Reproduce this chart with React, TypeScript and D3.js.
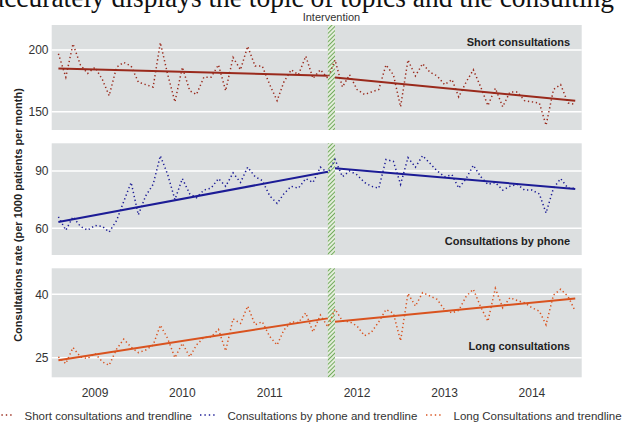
import { useEffect, useRef } from "react";
import * as d3 from "d3";

// monthly observations, Aug 2008 .. Jul 2014
const shortValues = [
  197, 178, 205, 188, 181, 186, 176, 163, 186, 190, 187, 174, 172, 170, 206, 180, 158, 186, 167, 164,
  178, 178, 188, 167, 194, 184, 203, 187, 187, 172, 159, 174, 184, 180, 195, 177, 184, 177, 192, 170,
  180, 168, 164, 166, 168, 188, 180, 154, 192, 179, 189, 182, 179, 172, 176, 162, 174, 184, 170, 155,
  169, 154, 166, 166, 159, 158, 157, 139, 168, 172, 157, 156,
];
const phoneValues = [
  66, 59, 66, 61, 59, 61.5, 61, 58, 64, 74, 84, 67, 77, 83, 98, 88, 75, 86, 78, 76,
  80, 81, 86, 82, 89, 84, 92, 87, 85, 77, 73, 78, 82, 81, 86, 84, 92, 89, 96, 87,
  90, 88, 84, 82, 81, 96, 95, 83, 97, 92, 98, 94, 90, 87, 88, 81, 86, 93, 87, 83,
  84, 80, 82, 83, 80, 80, 78, 68, 81, 86, 81, 81,
];
const longValues = [
  25.2, 23.6, 27.4, 25.2, 24.8, 26, 24, 23.2, 27, 29.4, 27.5, 26.2, 26.8, 28, 32.7, 29.5, 25, 28.4, 25.2, 28,
  29.8, 29.9, 31.7, 26.6, 34.2, 33.1, 37.2, 32.8, 33.5, 30, 28, 31.5, 33.5, 33.3, 35.6, 31.1, 35.1, 32.3, 36.5, 33.7,
  33.5, 32.5, 30.2, 31, 33.5, 36.4, 35.5, 29, 40.2, 37.2, 40.4, 39.6, 38.8, 36.3, 35.6, 36.2, 39.5, 41.2, 37, 33.6,
  41.4, 36.8, 39.2, 38.5, 38, 36.8, 36, 32.8, 39.8, 41.2, 39.5, 36,
];

// trendline start / end values, before and after the intervention
const shortTrend = [[185, 179.2], [177.8, 158.9]];
const phoneTrend = [[63.3, 89.6], [91.4, 80.6]];
const longTrend = [[24.4, 34.3], [33.5, 39.0]];

const yTicks = [[150, 200], [60, 90], [25, 40]];
const yDomains = [[135.2, 220.3], [46, 104.5], [20.36, 46.15]];
const panelNames = ["Short consultations", "Consultations by phone", "Long consultations"];
const yearLabels = [2009, 2010, 2011, 2012, 2013, 2014];
const legendLabels = [
  "Short consultations and trendline",
  "Consultations by phone and trendline",
  "Long Consultations and trendline",
];

const COLORS = ["#9a2a1c", "#1c1c96", "#d9531f"];
const FONT = "'Liberation Sans', Arial, sans-serif";

export default function App() {
  const ref = useRef<SVGSVGElement>(null);

  useEffect(() => {
    if (!ref.current) return;
    const svg = d3.select(ref.current);
    svg.selectAll("*").remove();

    const months = d3.timeMonth.range(new Date(2008, 7, 1), new Date(2014, 7, 1));
    const cut = 38; // first month after intervention (Oct 2011)

    const x = d3
      .scaleTime()
      .domain([new Date(2008, 6, 4), new Date(2014, 6, 28)])
      .range([51.7, 581.7]);

    const panels = [
      { top: 25, bottom: 130, values: shortValues, trend: shortTrend, labelY: 46 },
      { top: 143.3, bottom: 255, values: phoneValues, trend: phoneTrend, labelY: 244.5 },
      { top: 268.3, bottom: 377.3, values: longValues, trend: longTrend, labelY: 350 },
    ];

    const defs = svg.append("defs");
    const pat = defs
      .append("pattern")
      .attr("id", "hatch")
      .attr("patternUnits", "userSpaceOnUse")
      .attr("width", 3)
      .attr("height", 3)
      .attr("patternTransform", "rotate(45)");
    pat.append("rect").attr("width", 3).attr("height", 3).attr("fill", "#e4eddc");
    pat.append("line").attr("x1", 0).attr("y1", 0).attr("x2", 0).attr("y2", 3)
      .attr("stroke", "#5e9f48").attr("stroke-width", 1.7);

    // cut-off line of body text from the page above the figure
    svg.append("text")
      .attr("x", -8)
      .attr("y", 7)
      .attr("textLength", 622)
      .attr("lengthAdjust", "spacingAndGlyphs")
      .style("font-family", "'Liberation Serif', 'Times New Roman', serif")
      .style("font-size", "30px")
      .style("fill", "#111")
      .text("accurately displays the topic of topics and the consulting");

    const x0 = x(months[cut - 1]);
    const x1 = x(months[cut]);

    panels.forEach((p, k) => {
      const y = d3.scaleLinear().domain(yDomains[k]).range([p.bottom, p.top]);
      const g = svg.append("g");

      g.append("rect")
        .attr("x", 51.7).attr("y", p.top)
        .attr("width", 530).attr("height", p.bottom - p.top)
        .attr("fill", "#dcdfe0");

      yTicks[k].forEach((t) => {
        g.append("line")
          .attr("x1", 51.7).attr("x2", 581.7)
          .attr("y1", y(t)).attr("y2", y(t))
          .attr("stroke", "#fff").attr("stroke-width", 1.6);
        g.append("text")
          .attr("x", 48.5).attr("y", y(t)).attr("dy", "0.36em")
          .attr("text-anchor", "end")
          .style("font-family", FONT).style("font-size", "12px").style("fill", "#333")
          .text(t);
      });

      g.append("rect")
        .attr("x", x0).attr("y", p.top)
        .attr("width", x1 - x0).attr("height", p.bottom - p.top)
        .attr("fill", "url(#hatch)");

      // trendlines
      [[0, cut - 1], [cut, months.length - 1]].forEach(([a, b], s) => {
        g.append("line")
          .attr("x1", x(months[a])).attr("x2", x(months[b]))
          .attr("y1", y(p.trend[s][0])).attr("y2", y(p.trend[s][1]))
          .attr("stroke", COLORS[k]).attr("stroke-width", 2);
      });

      const line = d3.line<number>()
        .x((_, i) => x(months[i]))
        .y((d) => y(d));

      g.append("path")
        .attr("d", line(p.values))
        .attr("fill", "none")
        .attr("stroke", COLORS[k])
        .attr("stroke-width", 1.5)
        .attr("stroke-dasharray", "1.3 2.7");

      g.append("text")
        .attr("x", 570).attr("y", p.labelY)
        .attr("text-anchor", "end")
        .style("font-family", FONT).style("font-size", "11px").style("font-weight", "bold")
        .style("fill", "#222")
        .text(panelNames[k]);
    });

    svg.append("text")
      .attr("x", (x0 + x1) / 2).attr("y", 21)
      .attr("text-anchor", "middle")
      .style("font-family", FONT).style("font-size", "11px").style("fill", "#333")
      .text("Intervention");

    yearLabels.forEach((yr) => {
      svg.append("text")
        .attr("x", x(new Date(yr, 0, 1))).attr("y", 396.7)
        .attr("text-anchor", "middle")
        .style("font-family", FONT).style("font-size", "12px").style("fill", "#333")
        .text(yr);
    });

    svg.append("text")
      .attr("transform", "translate(22,215) rotate(-90)")
      .attr("text-anchor", "middle")
      .style("font-family", FONT).style("font-size", "11px").style("font-weight", "bold")
      .style("fill", "#222")
      .text("Consultations rate (per 1000 patients per month)");

    const legendX = [-3, 200, 426];
    legendLabels.forEach((lab, k) => {
      svg.append("line")
        .attr("x1", legendX[k]).attr("x2", legendX[k] + 17)
        .attr("y1", 415).attr("y2", 415)
        .attr("stroke", COLORS[k]).attr("stroke-width", 1.5)
        .attr("stroke-dasharray", "1.4 3");
      svg.append("text")
        .attr("x", legendX[k] + 27.5).attr("y", 419.5)
        .style("font-family", FONT).style("font-size", "11.5px").style("fill", "#333")
        .text(lab);
    });
  }, []);

  return (
    <svg
      ref={ref}
      width={622}
      height={422}
      style={{ position: "absolute", left: 0, top: 0, background: "#fff" }}
    />
  );
}
